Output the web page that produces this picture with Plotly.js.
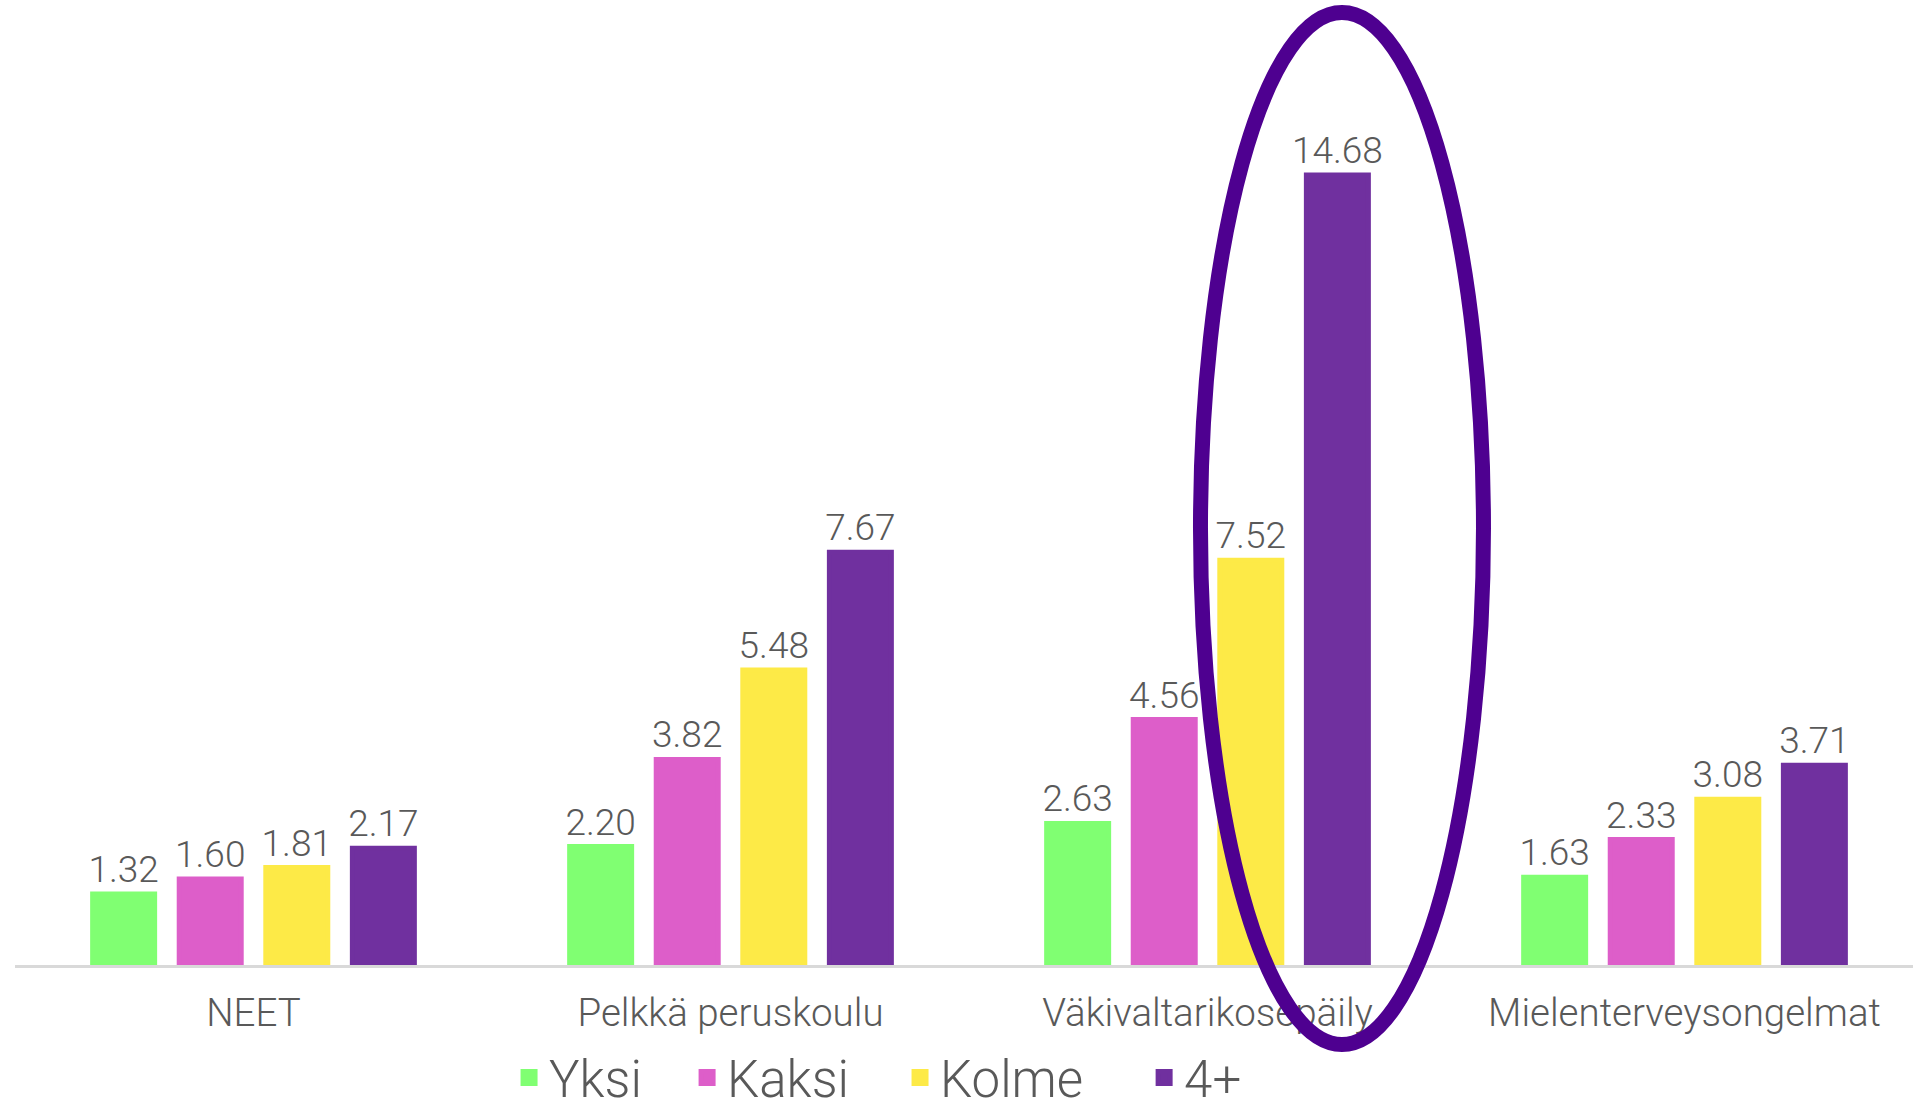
<!DOCTYPE html>
<html>
<head>
<meta charset="utf-8">
<script src="https://cdn.plot.ly/plotly-3.0.1.min.js"></script>
<style>html,body{margin:0;padding:0;background:#fff;overflow:hidden;}</style>
</head>
<body>
<div id="chart" style="width:1913px;height:1111px;"></div>
<script>
const categories = ["NEET", "Pelkkä peruskoulu", "Väkivaltarikosepäily", "Mielenterveysongelmat"];
const seriesNames = ["Yksi", "Kaksi", "Kolme", "4+"];
const yksi = [1.32, 2.20, 2.63, 1.63];
const kaksi = [1.60, 3.82, 4.56, 2.33];
const kolme = [1.81, 5.48, 7.52, 3.08];
const nelja = [2.17, 7.67, 14.68, 3.71];
const seriesValues = [yksi, kaksi, kolme, nelja];
const colors = ["#80FF72", "#DD5EC9", "#FDEA47", "#70309F"];

const FONT = "Roboto, 'Open Sans', sans-serif";
const GREY = "#595959";
const legendIds = ["legend", "legend2", "legend3", "legend4"];
const legendX = [0.2603, 0.3541, 0.4663, 0.5949];

const traces = seriesValues.map((vals, i) => ({
  type: "bar",
  name: seriesNames[i],
  legend: legendIds[i],
  x: categories,
  y: vals,
  marker: {color: colors[i], line: {color: colors[i], width: 5}},
  text: vals.map(v => v.toFixed(2)),
  texttemplate: "%{text}",
  textposition: "outside",
  constraintext: "none",
  cliponaxis: false,
  textfont: {family: FONT, size: 37, color: GREY, weight: 300},
  hoverinfo: "skip"
}));

const layout = {
  width: 1913,
  height: 1111,
  margin: {l: 15, r: 0, t: 0, b: 146, pad: 0, autoexpand: false},
  paper_bgcolor: "#fff",
  plot_bgcolor: "#fff",
  barmode: "group",
  bargap: 0.274,
  bargroupgap: 0.284,
  font: {family: FONT, color: GREY, weight: 300},
  xaxis: {
    type: "category",
    range: [-0.5, 3.479],
    automargin: false,
    showline: true,
    linecolor: "#D9D9D9",
    linewidth: 3,
    ticks: "outside",
    ticklen: 12,
    tickcolor: "rgba(0,0,0,0)",
    showgrid: false,
    zeroline: false,
    tickfont: {family: FONT, size: 38.5, color: GREY, weight: 300}
  },
  yaxis: {
    range: [0, 17.93],
    visible: false,
    showgrid: false,
    zeroline: false
  },
  showlegend: true,
  shapes: [{
    type: "circle",
    xref: "paper",
    yref: "paper",
    x0: 0.6246,
    x1: 0.7737,
    y0: -0.0824,
    y1: 0.987,
    line: {color: "#4E0090", width: 15},
    layer: "above"
  }]
};

legendIds.forEach((id, i) => {
  layout[id] = {
    orientation: "h",
    x: legendX[i],
    xanchor: "left",
    y: -0.117,
    yanchor: "middle",
    bgcolor: "rgba(0,0,0,0)",
    font: {family: FONT, size: 51, color: GREY, weight: 300},
    itemclick: false,
    itemdoubleclick: false
  };
});

Plotly.newPlot("chart", traces, layout, {displayModeBar: false, staticPlot: true});
</script>
</body>
</html>
